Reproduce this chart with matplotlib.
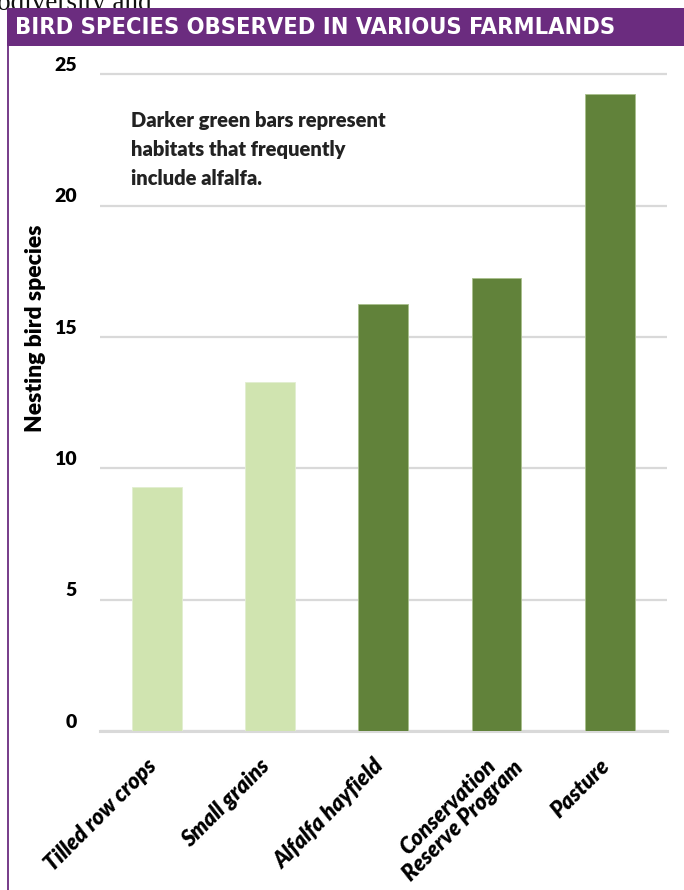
import matplotlib
matplotlib.use("Agg")
import matplotlib.pyplot as plt
from matplotlib.patches import Rectangle
from matplotlib.lines import Line2D
import matplotlib.transforms as mtransforms
import numpy as np

# ---- data ----
categories = ["Tilled row crops", "Small grains", "Alfalfa hayfield",
              "Conservation\nReserve Program", "Pasture"]
species = [9.3, 13.3, 16.25, 17.25, 24.25]
includes_alfalfa = [False, False, True, True, True]
yticks = [0, 5, 10, 15, 20, 25]
title = "BIRD SPECIES OBSERVED IN VARIOUS FARMLANDS"
ylabel = "Nesting bird species"
note = "Darker green bars represent\nhabitats that frequently\ninclude alfalfa."

W, H = 684, 890
DPI = 100
fig = plt.figure(figsize=(W / DPI, H / DPI), dpi=DPI)
fig.patch.set_facecolor("white")

purple = "#6B2C7F"
dark_green = "#61823A"
light_green = "#D0E4B0"
grid_col = "#D9D9D9"
BOLD = "heavy"

def fx(px):
    return px / W

def fy(py):
    return 1 - py / H

# background cut text from the page above
fig.text(fx(152), fy(10), "biodiversity and", ha="right", va="baseline",
         fontsize=19.5, family="Liberation Serif", color="#111111", zorder=1)

# banner
fig.patches.append(Rectangle((fx(7), fy(46)), fx(684) - fx(7), fy(8) - fy(46),
                             transform=fig.transFigure, facecolor=purple,
                             edgecolor="none", zorder=5))
fig.text(fx(15), fy(27), title, ha="left", va="center", color="white",
         fontsize=16.9, fontweight="bold", family="DejaVu Sans",
         fontstretch="condensed", zorder=6)
# left border line
fig.lines.append(Line2D([fx(8), fx(8)], [fy(46), 0], transform=fig.transFigure,
                        color=purple, lw=1.3, zorder=5))

# axes
px_per_unit = (731.3 - 74.3) / 25
ytop = 25.6
ax_left, ax_right = 100, 666.5
ax_bottom = 731.3
ax_top = ax_bottom - ytop * px_per_unit
ax = fig.add_axes([fx(ax_left), fy(ax_bottom), fx(ax_right) - fx(ax_left),
                   fy(ax_top) - fy(ax_bottom)])
ax.set_xlim(-0.5, len(categories) - 0.5)
ax.set_ylim(0, ytop)

xpos = list(range(len(categories)))
colors = [dark_green if a else light_green for a in includes_alfalfa]
edges = ["#A9BF8C" if a else "#E2EED0" for a in includes_alfalfa]
ax.bar(xpos, species, width=0.44, color=colors,
       edgecolor=edges, linewidth=0.6, zorder=3)

for s in ["top", "right", "left"]:
    ax.spines[s].set_visible(False)
ax.spines["bottom"].set_color(grid_col)
ax.spines["bottom"].set_linewidth(2.2)
ax.spines["bottom"].set_zorder(2)

ax.set_yticks(yticks)
ax.yaxis.grid(True, color=grid_col, linewidth=1.6, zorder=0)
ax.set_axisbelow(True)
ax.tick_params(axis="y", length=0, labelleft=False)
ax.set_xticks(xpos)
ax.tick_params(axis="x", length=0, labelbottom=False)

# y tick labels placed slightly above the gridlines
off = mtransforms.ScaledTranslation(-23 / DPI, 9 / DPI, fig.dpi_scale_trans)
trans = mtransforms.blended_transform_factory(ax.transAxes, ax.transData) + off
for v in yticks:
    ax.text(0, v, str(v), transform=trans, ha="right", va="center",
            fontsize=14, fontweight=BOLD, family="Lato", color="black")

# x category labels (rotated), first line of each label aligned at the tick
lab_kw = dict(fontsize=15.8, fontweight=BOLD, fontstyle="italic",
              family="Lato", color="black")
renderer = fig.canvas.get_renderer()

def line_width(s):
    t = fig.text(0, 0, s, **lab_kw)
    w = t.get_window_extent(renderer).width
    t.remove()
    return w

ang = np.deg2rad(45)
for x, lab in zip(xpos, categories):
    lines = lab.split("\n")
    widths = [line_width(s) for s in lines]
    shift = (max(widths) - widths[0]) / 2.0
    dx = -11 + shift * np.cos(ang)
    dy = -24 + shift * np.sin(ang)
    xoff = mtransforms.ScaledTranslation(dx / DPI, dy / DPI, fig.dpi_scale_trans)
    xtrans = mtransforms.blended_transform_factory(ax.transData, ax.transAxes) + xoff
    ax.text(x, 0, lab, transform=xtrans, rotation=45, ha="right", va="top",
            rotation_mode="anchor", linespacing=0.95,
            multialignment="center", **lab_kw)

# y label
fig.text(fx(36), fy(328), ylabel, rotation=90, ha="center", va="center",
         fontsize=16.5, fontweight=BOLD, family="Lato", color="black")

# note
fig.text(fx(131), fy(111), note, ha="left", va="top", fontsize=14.5,
         fontweight=BOLD, family="Lato", color="#222222", linespacing=1.62)

fig.savefig("out.png", dpi=DPI)
